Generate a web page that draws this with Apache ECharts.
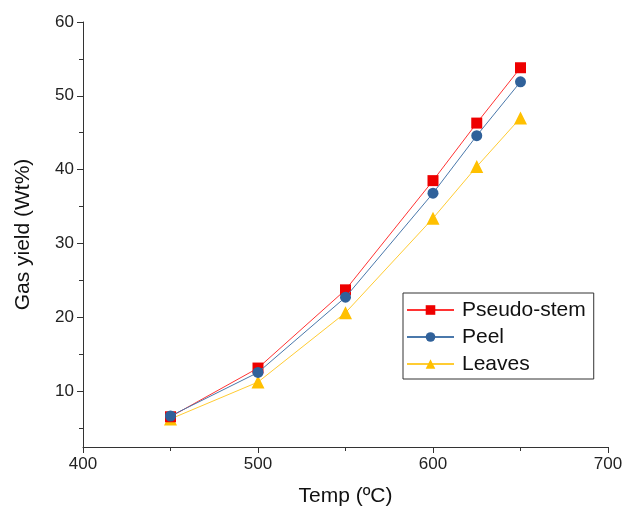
<!DOCTYPE html>
<html>
<head>
<meta charset="utf-8">
<script src="https://cdn.jsdelivr.net/npm/echarts@6/dist/echarts.min.js"></script>
<style>html,body{margin:0;padding:0;background:#fff;}#c{width:626px;height:513px;}</style>
</head>
<body>
<div id="c"></div>
<script>
var temps = [450, 500, 550, 600, 625, 650];
var pseudoStem = [6.5, 13.1, 23.7, 38.5, 46.3, 53.8];
var peel = [6.6, 12.5, 22.7, 36.8, 44.6, 51.9];
var leaves = [6.2, 11.2, 20.6, 33.4, 40.4, 47.0];
var yMajorTicks = [10, 20, 30, 40, 50, 60];
var yMinorTicks = [5, 15, 25, 35, 45, 55];
var seriesNames = ['Pseudo-stem', 'Peel', 'Leaves'];

function pairs(vals) { return temps.map(function (t, i) { return [t, vals[i]]; }); }

var font = 'Liberation Sans, Arial, sans-serif';
var chart = echarts.init(document.getElementById('c'));
chart.setOption({
  animation: false,
  backgroundColor: '#fff',
  grid: { left: 83, top: 22, right: 18, bottom: 66 },
  legend: {
    left: 403, top: 293,
    orient: 'vertical',
    borderColor: '#333', borderWidth: 1,
    padding: [6, 8, 4, 3],
    itemWidth: 47, itemHeight: 12, itemGap: 5,
    textStyle: { fontFamily: font, fontSize: 21, lineHeight: 22, color: '#111', padding: [0, 0, 0, 3] },
    data: seriesNames
  },
  xAxis: {
    type: 'value', min: 400, max: 700, interval: 100,
    name: 'Temp (ºC)', nameLocation: 'middle', nameGap: 39,
    nameTextStyle: { fontFamily: font, fontSize: 21, color: '#111' },
    axisLine: { lineStyle: { color: '#333', width: 1 } },
    axisTick: { length: 6, lineStyle: { color: '#333' } },
    minorTick: { show: true, splitNumber: 2, length: 4, lineStyle: { color: '#333' } },
    axisLabel: { fontFamily: font, fontSize: 17, color: '#222', margin: 9 },
    splitLine: { show: false }
  },
  yAxis: [{
    type: 'value', min: 2.4, max: 60,
    name: 'Gas yield (Wt%)', nameLocation: 'middle', nameGap: 49,
    nameTextStyle: { fontFamily: font, fontSize: 21, color: '#111' },
    axisLine: { show: true, lineStyle: { color: '#333', width: 1 } },
    axisTick: { show: true, length: 6, customValues: yMajorTicks, lineStyle: { color: '#333' } },
    axisLabel: { fontFamily: font, fontSize: 17, color: '#222', margin: 9, customValues: yMajorTicks },
    splitLine: { show: false }
  }, {
    type: 'value', min: 2.4, max: 60, position: 'left',
    axisLine: { show: false },
    axisTick: { show: true, length: 4, customValues: yMinorTicks, lineStyle: { color: '#333' } },
    axisLabel: { show: false },
    splitLine: { show: false }
  }],
  series: [{
    name: seriesNames[2], type: 'line', data: pairs(leaves), z: 2,
    symbol: 'triangle', symbolSize: 13,
    itemStyle: { color: '#ffc000' }, lineStyle: { color: '#ffcc33', width: 1 }
  }, {
    name: seriesNames[0], type: 'line', data: pairs(pseudoStem), z: 3,
    symbol: 'rect', symbolSize: 11,
    itemStyle: { color: '#ee0000' }, lineStyle: { color: '#ff3333', width: 1 }
  }, {
    name: seriesNames[1], type: 'line', data: pairs(peel), z: 4,
    symbol: 'circle', symbolSize: 11,
    itemStyle: { color: '#30619a' }, lineStyle: { color: '#4a78ab', width: 1 }
  }]
});
</script>
</body>
</html>
